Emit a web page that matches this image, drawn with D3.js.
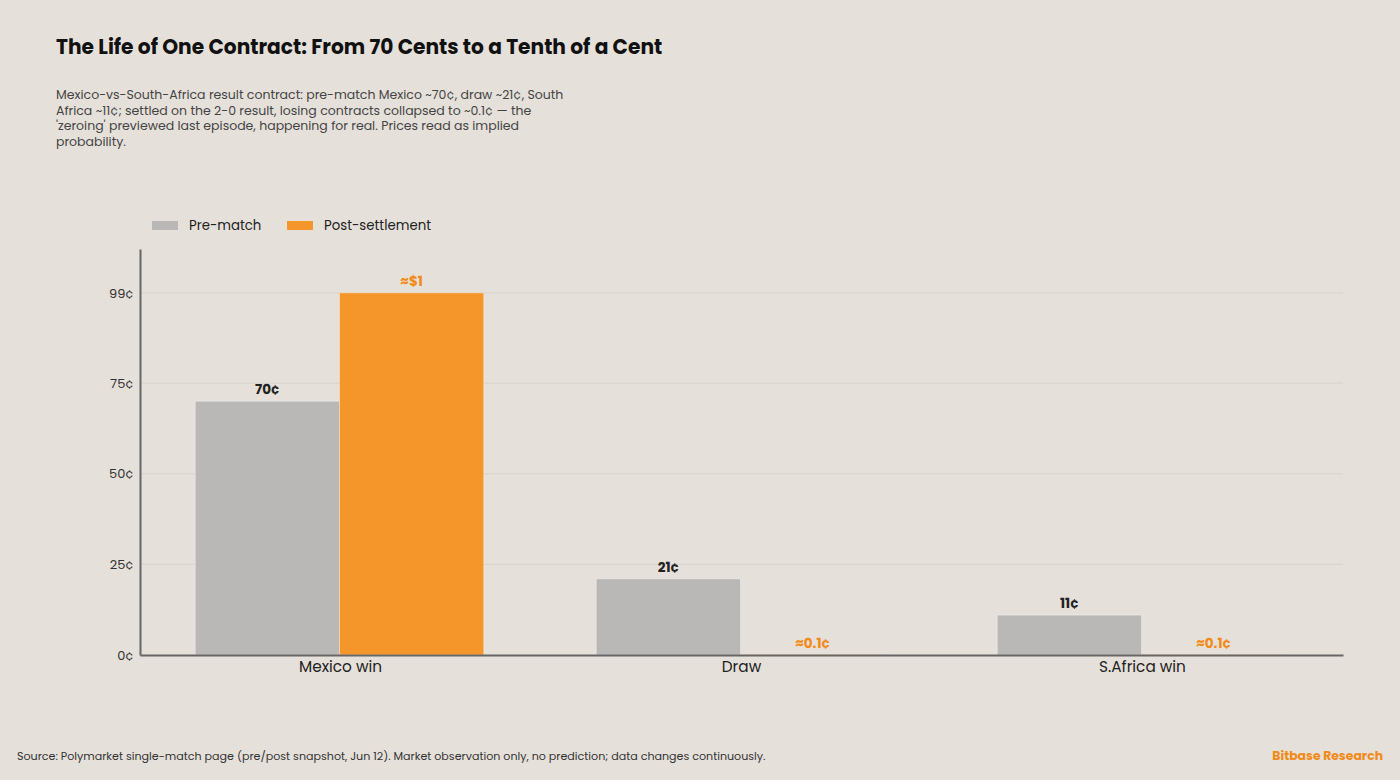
<!DOCTYPE html>
<html>
<head>
<meta charset="utf-8">
<script src="https://cdn.jsdelivr.net/npm/d3@7"></script>
<style>
  body { margin: 0; background: #e5e0da; }
  svg { display: block; font-family: Poppins, Inter, "Open Sans", sans-serif; }
</style>
</head>
<body>
<div id="chart"></div>
<script>
// data
var categories = ["Mexico win", "Draw", "S.Africa win"];
var seriesNames = ["Pre-match", "Post-settlement"];
var preMatch = [70, 21, 11];
var postSettlement = [99.9, 0.1, 0.1];
var preLabels = ["70¢", "21¢", "11¢"];
var postLabels = ["≈$1", "≈0.1¢", "≈0.1¢"];
var tickValues = [0, 25, 50, 75, 99.9];
var tickLabels = ["0¢", "25¢", "50¢", "75¢", "99¢"];

var W = 1400, H = 780,
	colors = ["#b9b8b6", "#f5962a"],
	margin = { left: 140, right: 57, top: 249, bottom: 125 };

var svg = d3.select("#chart").append("svg").attr("width", W).attr("height", H);
svg.append("rect").attr("width", W).attr("height", H).attr("fill", "#e5e0da");

// title + subtitle
svg.append("text").attr("x", 56).attr("y", 54)
	.attr("font-size", 20.2).attr("font-weight", 700).attr("fill", "#111")
	.text("The Life of One Contract: From 70 Cents to a Tenth of a Cent");

var sub = [
	"Mexico-vs-South-Africa result contract: pre-match Mexico ~70¢, draw ~21¢, South",
	"Africa ~11¢; settled on the 2-0 result, losing contracts collapsed to ~0.1¢ — the",
	"'zeroing' previewed last episode, happening for real. Prices read as implied",
	"probability."
];
svg.append("g").selectAll("text").data(sub).join("text")
	.attr("x", 56).attr("y", function(d, i) { return 99 + i * 15.7; })
	.attr("font-size", 12.5).attr("fill", "#444")
	.text(function(d) { return d; });

// scales
var x0 = d3.scaleBand().domain(categories).range([margin.left, W - margin.right]).padding(0);
var x1 = d3.scaleBand().domain(seriesNames).range([0, x0.bandwidth()]).paddingInner(0).paddingOuter(0.39);
var y = d3.scaleLinear().domain([0, 112]).range([H - margin.bottom, margin.top]);

// grid
svg.append("g").selectAll("line").data(tickValues.slice(1)).join("line")
	.attr("x1", margin.left).attr("x2", W - margin.right)
	.attr("y1", function(d) { return y(d); }).attr("y2", function(d) { return y(d); })
	.attr("stroke", "#d8d3cc").attr("stroke-width", 1);

// y axis
var yAxis = d3.axisLeft(y).tickValues(tickValues).tickSize(0).tickPadding(6)
	.tickFormat(function(d, i) { return tickLabels[i]; });
var gy = svg.append("g").attr("transform", "translate(" + margin.left + ",0)").call(yAxis)
	.attr("font-family", null).attr("font-size", null);
gy.select(".domain").attr("stroke", "#666").attr("stroke-width", 2);
gy.selectAll("text").attr("font-size", 13).attr("fill", "#333");

// bars
var rows = categories.map(function(c, i) {
	return [
		{ cat: c, s: seriesNames[0], v: preMatch[i], label: preLabels[i], idx: 0 },
		{ cat: c, s: seriesNames[1], v: postSettlement[i], label: postLabels[i], idx: 1 }
	];
});

var groups = svg.append("g").selectAll("g").data(rows).join("g")
	.attr("transform", function(d) { return "translate(" + x0(d[0].cat) + ",0)"; });

groups.selectAll("rect").data(function(d) { return d; }).join("rect")
	.attr("x", function(d) { return x1(d.s) - 1; })
	.attr("width", x1.bandwidth())
	.attr("y", function(d) { return y(d.v); })
	.attr("height", function(d) { return y(0) - y(d.v); })
	.attr("fill", function(d) { return colors[d.idx]; })
	.attr("stroke", "rgba(255,255,255,0.35)").attr("stroke-width", 1);

groups.selectAll("text").data(function(d) { return d; }).join("text")
	.attr("x", function(d) { return x1(d.s) - 1 + x1.bandwidth() / 2; })
	.attr("y", function(d) { return y(d.v) - 7; })
	.attr("text-anchor", "middle")
	.attr("font-size", 13.5).attr("font-weight", 700)
	.attr("fill", function(d) { return d.idx ? "#f28a17" : "#222"; })
	.text(function(d) { return d.label; });

// x axis
var xAxis = d3.axisBottom(x0).tickSize(0).tickPadding(6);
var gx = svg.append("g").attr("transform", "translate(0," + y(0) + ")").call(xAxis)
	.attr("font-family", null).attr("font-size", null);
gx.select(".domain").attr("stroke", "#666").attr("stroke-width", 2);
gx.selectAll("text").attr("font-size", 15.3).attr("fill", "#222");

// legend
var leg = svg.append("g").selectAll("g").data(seriesNames).join("g")
	.attr("transform", function(d, i) { return "translate(" + (152 + i * 135) + ",221)"; });
leg.append("rect").attr("width", 26).attr("height", 9)
	.attr("fill", function(d, i) { return colors[i]; });
leg.append("text").attr("x", 37).attr("y", 9).attr("font-size", 13.3).attr("fill", "#222")
	.text(function(d) { return d; });

// footer
svg.append("text").attr("x", 17).attr("y", 760).attr("font-size", 11.1).attr("fill", "#333")
	.text("Source: Polymarket single-match page (pre/post snapshot, Jun 12). Market observation only, no prediction; data changes continuously.");
svg.append("text").attr("x", 1383).attr("y", 760).attr("text-anchor", "end")
	.attr("font-size", 12.4).attr("font-weight", 700).attr("fill", "#f28a17")
	.text("Bitbase Research");
</script>
</body>
</html>
